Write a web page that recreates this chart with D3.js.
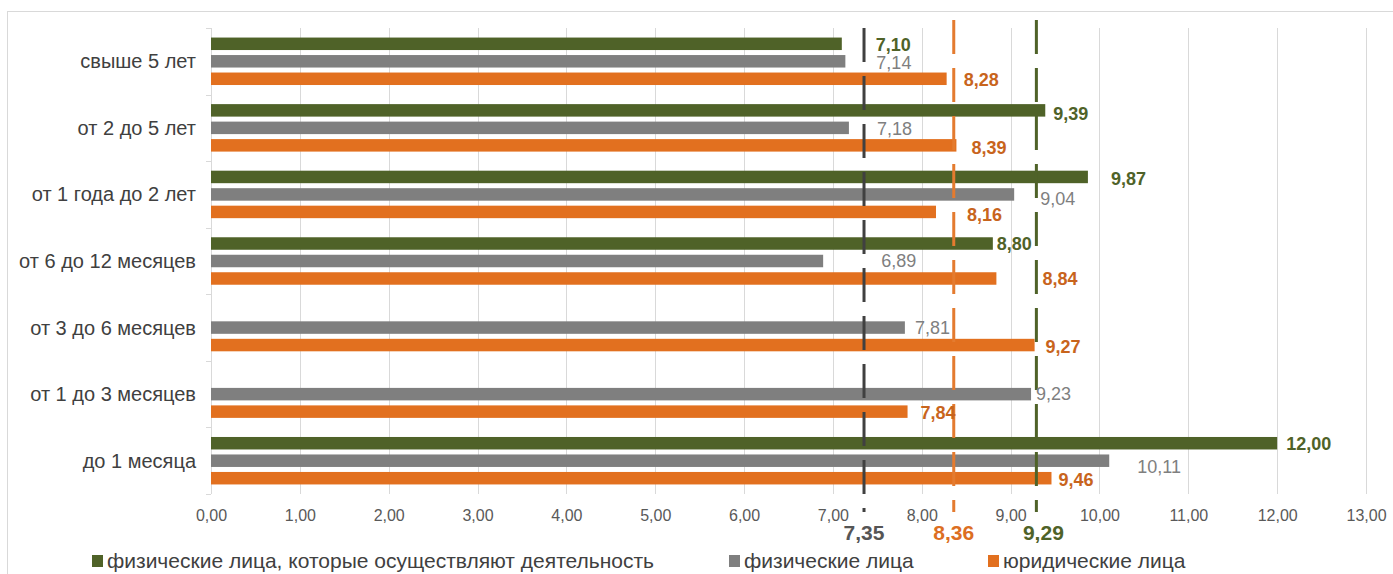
<!DOCTYPE html>
<html>
<head>
<meta charset="utf-8">
<script src="https://cdn.jsdelivr.net/npm/d3@7"></script>
<style>
  html, body { margin: 0; padding: 0; background: #ffffff; }
  svg { display: block; font-family: "Liberation Sans", Arial, sans-serif; }
</style>
</head>
<body>
<svg id="chart" width="1393" height="574"></svg>
<script>
// ---------------- data ----------------
const categories = ["свыше 5 лет", "от 2 до 5 лет", "от 1 года до 2 лет", "от 6 до 12 месяцев",
                    "от 3 до 6 месяцев", "от 1 до 3 месяцев", "до 1 месяца"];
const seriesNames = ["физические лица, которые осуществляют деятельность", "физические лица", "юридические лица"];
const entrepreneurs = [7.10, 9.39, 9.87, 8.80, null, null, 12.00];
const individuals   = [7.14, 7.18, 9.04, 6.89, 7.81, 9.23, 10.11];
const legalEntities = [8.28, 8.39, 8.16, 8.84, 9.27, 7.84, 9.46];
const averages      = [9.29, 7.35, 8.36];   // same order as seriesNames
const xTickValues   = [0, 1, 2, 3, 4, 5, 6, 7, 8, 9, 10, 11, 12, 13];

// ---------------- layout / style ----------------
const barColors   = ["#4f6228", "#7f7f7f", "#e2701f"];
const labelColors = ["#4f6228", "#7f7f7f", "#c8641c"];
const avgLineColors  = ["#4f6228", "#404040", "#e47b2f"];
const avgLabelColors = ["#4f6228", "#555555", "#dc6e22"];
const labelDx = [[34, 8, 23, 4, 0, 0, 9], [31, 28, 26, 58, 10, 5, 28], [17, 15, 31, 46, 11, 13, 7]];
const labelDy = [[1, 3, 2, 0, 0, 0, 0], [1, 1, 4, 0, 0, -1, 6], [1, 2, 3, 0, 1, 1, 1]];
const avgLabelDx = [7, 0, 0];
const legendX = [92, 729, 988];

const seriesValues = [entrepreneurs, individuals, legalEntities];
const fmt = v => v.toFixed(2).replace(".", ",");

const svg = d3.select("#chart");

// outer frame (right and bottom edges fall outside the picture)
svg.append("rect").attr("x", 7.5).attr("y", 11.5).attr("width", 1400).attr("height", 580)
  .attr("fill", "none").attr("stroke", "#d9d9d9").attr("stroke-width", 1);

const x = d3.scaleLinear().domain([0, 13]).range([211, 1366]);
const y = d3.scaleBand().domain(categories).range([28, 494]).paddingInner(0).paddingOuter(0);
const ySub = d3.scaleBand().domain(d3.range(3)).range([0, y.bandwidth()]).paddingInner(0.286).paddingOuter(0.546);

// gridlines
svg.append("g").selectAll("line").data(xTickValues.filter(d => d > 0)).join("line")
  .attr("x1", d => Math.round(x(d)) + 0.5).attr("x2", d => Math.round(x(d)) + 0.5)
  .attr("y1", 28).attr("y2", 494)
  .attr("stroke", "#d9d9d9").attr("stroke-width", 1);

// x axis tick labels
const xAxis = d3.axisBottom(x).tickValues(xTickValues).tickFormat(fmt).tickSize(0).tickPadding(0);
const gx = svg.append("g").attr("transform", "translate(0,510)").call(xAxis);
gx.select(".domain").remove();
gx.selectAll("text").attr("font-size", 16).attr("fill", "#595959")
  .attr("font-family", "'Liberation Sans', Arial, sans-serif").attr("dy", "0.71em").attr("y", 0);

// y axis line and ticks
const boundaries = categories.map(c => y(c)).concat([y(categories[categories.length - 1]) + y.bandwidth()]);
svg.append("line").attr("x1", x(0) + 0.5).attr("x2", x(0) + 0.5).attr("y1", 28).attr("y2", 494)
  .attr("stroke", "#d9d9d9");
svg.append("g").selectAll("line").data(boundaries).join("line")
  .attr("x1", x(0) - 5).attr("x2", x(0)).attr("y1", d => Math.round(d) + 0.5).attr("y2", d => Math.round(d) + 0.5)
  .attr("stroke", "#d9d9d9");

// category labels
svg.append("g").selectAll("text").data(categories).join("text")
  .attr("x", 196).attr("y", d => y(d) + y.bandwidth() / 2)
  .attr("dy", "0.35em").attr("text-anchor", "end")
  .attr("font-size", 20).attr("fill", "#404040").text(d => d);

// bars
const barData = [];
seriesValues.forEach((vals, s) => vals.forEach((v, i) => {
  if (v !== null) barData.push({ s, i, v, cat: categories[i] });
}));

svg.append("g").selectAll("rect").data(barData).join("rect")
  .attr("x", x(0)).attr("y", d => y(d.cat) + ySub(d.s))
  .attr("width", d => x(d.v) - x(0)).attr("height", ySub.bandwidth())
  .attr("fill", d => barColors[d.s]);

// average dashed lines
svg.append("g").selectAll("line").data(averages).join("line")
  .attr("x1", d => x(d)).attr("x2", d => x(d))
  .attr("y1", (d, s) => s === 1 ? 28 : 20).attr("y2", 512)
  .attr("stroke", (d, s) => avgLineColors[s]).attr("stroke-width", 3)
  .attr("stroke-dasharray", "34,14");

// data labels
svg.append("g").selectAll("text").data(barData).join("text")
  .attr("x", d => x(d.v) + labelDx[d.s][d.i])
  .attr("y", d => y(d.cat) + ySub(d.s) + ySub.bandwidth() / 2 + labelDy[d.s][d.i])
  .attr("dy", "0.36em")
  .attr("font-size", 18)
  .attr("font-weight", d => d.s === 1 ? "normal" : "bold")
  .attr("fill", d => labelColors[d.s])
  .text(d => fmt(d.v));

// average labels
svg.append("g").selectAll("text").data(averages).join("text")
  .attr("x", (d, s) => x(d) + avgLabelDx[s]).attr("y", 532).attr("dy", "0.36em")
  .attr("text-anchor", "middle").attr("font-size", 21).attr("font-weight", "bold")
  .attr("fill", (d, s) => avgLabelColors[s]).text(d => fmt(d));

// legend
const lg = svg.append("g").selectAll("g").data(seriesNames).join("g")
  .attr("transform", (d, s) => `translate(${legendX[s]},561)`);
lg.append("rect").attr("x", 0).attr("y", -6).attr("width", 11).attr("height", 12)
  .attr("fill", (d, s) => barColors[s]);
lg.append("text").attr("x", 15).attr("y", 0).attr("dy", "0.35em")
  .attr("font-size", 21).attr("fill", "#404040").text(d => d);
</script>
</body>
</html>
